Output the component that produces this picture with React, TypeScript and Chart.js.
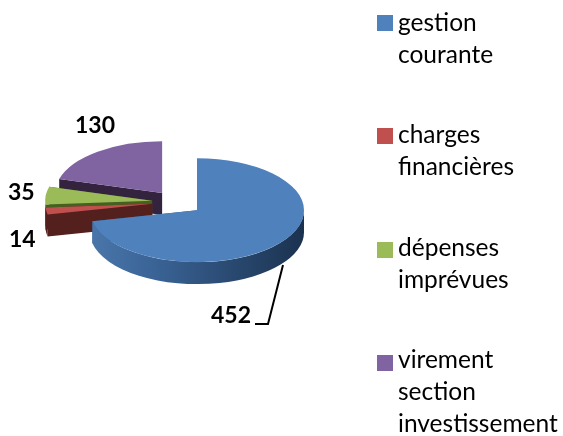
import React, { useEffect, useRef } from "react";
import { Chart, registerables } from "chart.js";

Chart.register(...registerables);

const categoryLines = [
  ["gestion", "courante"],
  ["charges", "financières"],
  ["dépenses", "imprévues"],
  ["virement", "section", "investissement"],
];
const values = [452, 14, 35, 130];
const explode = [27, 24, 24, 23];
const topColors = ["#4f81bd", "#c0504d", "#9bbb59", "#8064a2"];
const wallColors = ["#2f527f", "#54201e", "#46601f", "#33233f"];

const WIDTH = 563;
const HEIGHT = 436;
const TILT = 0.485;
const DEPTH = 22;
const BLACK = "#000000";
const FONT = "Lato, 'Open Sans', sans-serif";

const legendSwatchTops = [15, 128, 242, 355];
const legendBaselines = [
  [31, 63],
  [143, 175],
  [256, 288],
  [368, 400, 432],
];
const labelPlaces: [number, number][] = [
  [211, 323],
  [9, 247],
  [8, 200],
  [75, 133],
];

function drawSlice(ctx: CanvasRenderingContext2D, arc: any, index: number) {
  const { x, y, startAngle, endAngle, outerRadius: r } = arc;
  const mid = (startAngle + endAngle) / 2;
  const cx = x + Math.cos(mid) * explode[index];
  const cy = y + Math.sin(mid) * explode[index] * TILT;
  const rx = r;
  const ry = r * TILT;
  const wall = wallColors[index];
  const point = (a: number) => [cx + Math.cos(a) * rx, cy + Math.sin(a) * ry];

  // straight cut walls
  for (const a of [startAngle, endAngle]) {
    const [px, py] = point(a);
    ctx.beginPath();
    ctx.moveTo(cx, cy);
    ctx.lineTo(px, py);
    ctx.lineTo(px, py + DEPTH);
    ctx.lineTo(cx, cy + DEPTH);
    ctx.closePath();
    ctx.fillStyle = wall;
    ctx.fill();
  }

  // curved outer wall: only the part that faces the viewer
  const ranges: [number, number][] = [];
  for (const k of [-2, 0, 2]) {
    const lo = Math.max(startAngle, k * Math.PI);
    const hi = Math.min(endAngle, k * Math.PI + Math.PI);
    if (hi > lo) ranges.push([lo, hi]);
  }
  for (const [lo, hi] of ranges) {
    ctx.beginPath();
    ctx.ellipse(cx, cy, rx, ry, 0, lo, hi);
    ctx.ellipse(cx, cy + DEPTH, rx, ry, 0, hi, lo, true);
    ctx.closePath();
    if (index === 0) {
      const g = ctx.createLinearGradient(cx - rx, 0, cx + rx, 0);
      g.addColorStop(0, "#4a76ab");
      g.addColorStop(0.3, "#3a6496");
      g.addColorStop(0.65, "#2a4a72");
      g.addColorStop(1, "#1b324f");
      ctx.fillStyle = g;
    } else {
      ctx.fillStyle = wall;
    }
    ctx.fill();
  }

  // top face drawn by the arc element itself
  ctx.save();
  ctx.translate(cx, cy);
  ctx.scale(1, TILT);
  ctx.translate(-x, -y);
  arc.draw(ctx);
  ctx.restore();
}

const pie3d = {
  id: "pie3d",
  beforeDatasetDraw(chart: any) {
    const ctx = chart.ctx as CanvasRenderingContext2D;
    const arcs = chart.getDatasetMeta(0).data;
    [3, 2, 1, 0].forEach((i) => drawSlice(ctx, arcs[i], i));
    return false;
  },
  afterDraw(chart: any) {
    const ctx = chart.ctx as CanvasRenderingContext2D;
    ctx.save();
    ctx.textBaseline = "alphabetic";
    ctx.textAlign = "left";

    // legend
    ctx.font = `24.5px ${FONT}`;
    categoryLines.forEach((lines, i) => {
      ctx.fillStyle = topColors[i];
      ctx.fillRect(377, legendSwatchTops[i], 16, 16);
      ctx.fillStyle = BLACK;
      lines.forEach((line, j) => ctx.fillText(line, 398, legendBaselines[i][j]));
    });

    // data labels
    ctx.font = `bold 23px ${FONT}`;
    ctx.fillStyle = BLACK;
    values.forEach((v, i) => ctx.fillText(String(v), labelPlaces[i][0], labelPlaces[i][1]));

    // leader line of the largest slice
    ctx.strokeStyle = BLACK;
    ctx.lineWidth = 2;
    ctx.beginPath();
    ctx.moveTo(283, 265);
    ctx.lineTo(268, 324);
    ctx.lineTo(255, 324);
    ctx.stroke();
    ctx.restore();
  },
};

export default function App() {
  const ref = useRef<HTMLCanvasElement>(null);
  useEffect(() => {
    const chart = new Chart(ref.current as HTMLCanvasElement, {
      type: "pie",
      data: {
        labels: categoryLines.map((l) => l.join(" ")),
        datasets: [{ data: values, backgroundColor: topColors, borderWidth: 0 }],
      },
      options: {
        animation: false,
        responsive: false,
        radius: 107,
        layout: { padding: { left: 0, top: 0, right: WIDTH - 2 * 176, bottom: HEIGHT - 2 * 202 } },
        plugins: { legend: { display: false }, tooltip: { enabled: false } },
      },
      plugins: [pie3d],
    } as any);
    return () => chart.destroy();
  }, []);
  return (
    <div style={{ position: "absolute", left: 0, top: 0, width: WIDTH, height: HEIGHT, background: "#fff" }}>
      <canvas ref={ref} width={WIDTH} height={HEIGHT} style={{ display: "block" }} />
    </div>
  );
}
